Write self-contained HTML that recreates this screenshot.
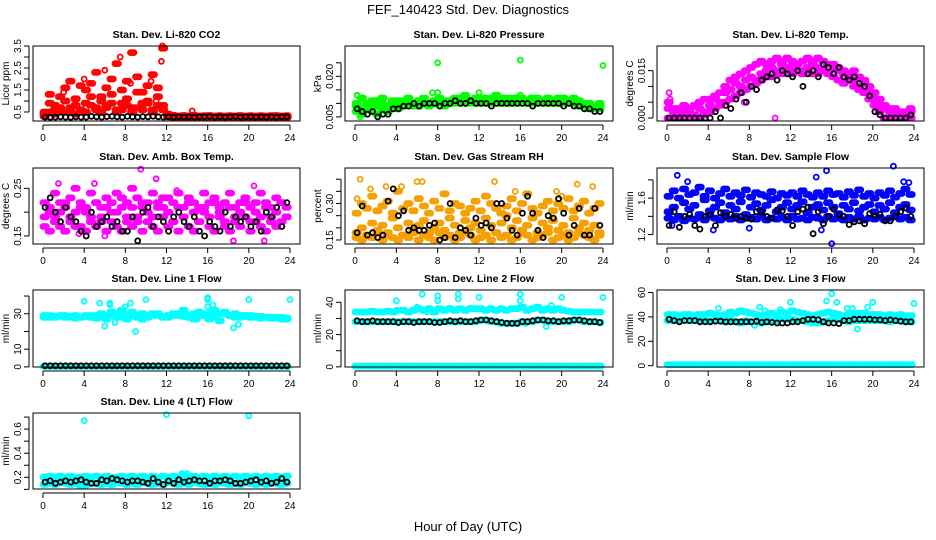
<!DOCTYPE html>
<html><head><meta charset="utf-8"><title>FEF_140423 Std. Dev. Diagnostics</title>
<style>html,body{margin:0;padding:0;background:#fff}svg{display:block;font-family:"Liberation Sans",Arial,sans-serif}</style>
</head><body>
<svg id="chart" width="936" height="540" viewBox="0 0 936 540" xmlns="http://www.w3.org/2000/svg">
<text x="468" y="14" font-size="13" text-anchor="middle">FEF_140423  Std. Dev. Diagnostics</text>
<text x="468" y="531" font-size="13" text-anchor="middle">Hour of Day (UTC)</text>
<g id="panels"></g>
</svg>
<script>
const hours=[0,0.5,1,1.5,2,2.5,3,3.5,4,4.5,5,5.5,6,6.5,7,7.5,8,8.5,9,9.5,10,10.5,11,11.5,12,12.5,13,13.5,14,14.5,15,15.5,16,16.5,17,17.5,18,18.5,19,19.5,20,20.5,21,21.5,22,22.5,23,23.5];
const xTicks=[0,4,8,12,16,20,24];
const xTickLabels=["0","4","8","12","16","20","24"];

const co2Red1=[0.4,0.9,0.6,0.7,1.0,0.5,0.8,0.6,0.9,1.2,0.7,1.0,0.8,1.3,0.6,0.9,1.1,0.7,1.4,0.9,1.0,0.6,1.2,0.8,0.4,0.35,0.3,0.3,0.3,0.35,0.3,0.3,0.3,0.3,0.3,0.3,0.3,0.3,0.3,0.3,0.3,0.3,0.3,0.3,0.3,0.3,0.3,0.3];
const co2Red2=[0.3,0.5,0.4,0.6,0.5,0.7,0.4,0.6,0.5,0.8,0.6,0.5,0.7,0.9,0.5,0.6,0.8,0.5,0.7,0.6,0.9,0.5,0.8,0.6,0.28,0.26,0.25,0.25,0.26,0.25,0.25,0.26,0.25,0.25,0.26,0.25,0.25,0.26,0.25,0.25,0.26,0.25,0.25,0.26,0.25,0.25,0.26,0.25];
const co2Red3=[0.5,1.3,0.8,1.2,1.6,1.9,1.1,1.7,1.5,1.8,2.3,1.2,1.6,2.0,2.7,1.5,1.9,3.2,2.1,1.4,1.7,2.2,1.6,3.4,0.32,0.33,0.32,0.34,0.32,0.33,0.32,0.33,0.34,0.32,0.33,0.32,0.33,0.32,0.34,0.32,0.33,0.32,0.33,0.32,0.33,0.34,0.32,0.33];
const co2Out=[[8.5,1.8],[8,1.1],[7.5,3.0],[11.5,2.8],[11.6,3.5],[10.5,1.9],[11,1.0],[2,1.4],[4,2.0],[6,2.4],[14.5,0.55]];
const co2Black=[0.27,0.26,0.27,0.28,0.27,0.26,0.28,0.27,0.27,0.3,0.28,0.27,0.29,0.3,0.28,0.27,0.3,0.28,0.27,0.29,0.28,0.31,0.28,0.27,0.28,0.27,0.28,0.27,0.28,0.27,0.28,0.28,0.29,0.27,0.28,0.27,0.28,0.29,0.27,0.28,0.28,0.27,0.28,0.27,0.28,0.27,0.28,0.28];

const presG1=[0.010,0.012,0.008,0.011,0.009,0.012,0.008,0.010,0.011,0.009,0.012,0.010,0.011,0.012,0.010,0.011,0.012,0.011,0.010,0.012,0.011,0.013,0.011,0.012,0.012,0.011,0.012,0.013,0.011,0.012,0.012,0.011,0.012,0.011,0.012,0.012,0.011,0.012,0.011,0.012,0.012,0.011,0.012,0.011,0.010,0.010,0.009,0.010];
const presG2=[0.007,0.006,0.008,0.007,0.006,0.008,0.007,0.009,0.008,0.009,0.010,0.009,0.009,0.010,0.009,0.010,0.010,0.009,0.010,0.010,0.010,0.011,0.010,0.010,0.010,0.010,0.010,0.011,0.010,0.010,0.010,0.010,0.011,0.010,0.010,0.010,0.010,0.010,0.010,0.010,0.010,0.010,0.010,0.009,0.009,0.008,0.008,0.008];
const presG3=[0.009,0.008,0.010,0.009,0.011,0.010,0.009,0.011,0.010,0.011,0.011,0.010,0.011,0.011,0.010,0.011,0.011,0.010,0.011,0.011,0.012,0.011,0.011,0.011,0.011,0.012,0.011,0.011,0.012,0.011,0.011,0.012,0.011,0.011,0.012,0.011,0.011,0.012,0.011,0.011,0.012,0.011,0.011,0.010,0.010,0.009,0.009,0.009];
const presOut=[[8,0.025],[16,0.026],[24,0.024],[7.5,0.014],[8,0.014],[12,0.014],[16,0.013],[2,0.006],[0.2,0.013],[0.5,0.005]];
const presBlack=[0.008,0.007,0.006,0.007,0.005,0.006,0.006,0.008,0.008,0.009,0.009,0.010,0.009,0.010,0.010,0.010,0.009,0.010,0.010,0.011,0.010,0.010,0.011,0.010,0.010,0.010,0.009,0.010,0.010,0.010,0.010,0.010,0.010,0.010,0.009,0.010,0.010,0.010,0.010,0.010,0.009,0.010,0.009,0.009,0.008,0.008,0.007,0.007];

const tempM1=[0.003,0.002,0.001,0.002,0.002,0.001,0.003,0.002,0.004,0.006,0.005,0.008,0.009,0.011,0.010,0.012,0.013,0.012,0.014,0.015,0.016,0.015,0.017,0.016,0.016,0.017,0.015,0.016,0.017,0.016,0.015,0.017,0.016,0.015,0.014,0.013,0.012,0.010,0.011,0.008,0.006,0.004,0.003,0.002,0.002,0.001,0.001,0.002];
const tempM2=[0,0,0,0,0.001,0,0,0.001,0.002,0.003,0.004,0.005,0.006,0.007,0.008,0.009,0.010,0.011,0.012,0.013,0.013,0.014,0.014,0.015,0.014,0.015,0.014,0.015,0.014,0.014,0.015,0.014,0.013,0.012,0.011,0.012,0.010,0.009,0.008,0.006,0.004,0.002,0,0,0,0,0,0];
const tempM3=[0.005,0.003,0.003,0.004,0.003,0.004,0.005,0.006,0.006,0.007,0.008,0.010,0.012,0.013,0.014,0.015,0.016,0.017,0.018,0.017,0.018,0.019,0.018,0.019,0.018,0.017,0.018,0.019,0.018,0.019,0.018,0.017,0.017,0.016,0.015,0.014,0.015,0.013,0.012,0.010,0.008,0.006,0.004,0.003,0.003,0.002,0.002,0.003];
const tempOut=[[0.2,0.008],[0.3,0.006],[7.5,0.005],[10.5,0.0],[21,0.0],[21.5,0.0],[22.5,0.0],[3,0.0]];
const tempBlack=[0,0,0,0,0,0,0,0,0,0.002,0,0.004,0.003,0.006,0.008,0.005,0.010,0.009,0.012,0.013,0.014,0.012,0.015,0.014,0.013,0.015,0.010,0.014,0.015,0.013,0.017,0.016,0.014,0.016,0.013,0.012,0.013,0.011,0.010,0.007,0.002,0.001,0,0,0,0,0,0.001];

const ambA1=[0.19,0.21,0.18,0.20,0.22,0.19,0.17,0.21,0.20,0.18,0.22,0.19,0.21,0.18,0.20,0.23,0.19,0.21,0.18,0.22,0.20,0.19,0.21,0.23,0.20,0.18,0.21,0.19,0.22,0.20,0.18,0.21,0.19,0.22,0.20,0.18,0.21,0.19,0.20,0.22,0.18,0.20,0.19,0.21,0.18,0.20,0.22,0.19];
const ambA2=[0.17,0.16,0.19,0.17,0.16,0.18,0.20,0.17,0.16,0.19,0.17,0.18,0.16,0.20,0.17,0.16,0.18,0.17,0.19,0.16,0.18,0.17,0.16,0.19,0.17,0.18,0.16,0.19,0.17,0.16,0.18,0.20,0.17,0.16,0.19,0.17,0.16,0.18,0.17,0.19,0.16,0.18,0.17,0.16,0.19,0.17,0.18,0.19];
const ambA3=[0.22,0.20,0.24,0.22,0.21,0.23,0.25,0.22,0.21,0.24,0.22,0.21,0.23,0.22,0.24,0.21,0.22,0.25,0.23,0.21,0.22,0.24,0.22,0.21,0.23,0.22,0.24,0.21,0.23,0.22,0.21,0.24,0.22,0.23,0.21,0.22,0.24,0.21,0.22,0.23,0.21,0.22,0.24,0.22,0.21,0.23,0.22,0.21];
const ambOut=[[1.5,0.26],[5,0.26],[9.5,0.29],[11,0.27],[13,0.245],[20.5,0.255],[18.5,0.14],[21.5,0.14],[6,0.15],[3.5,0.155]];
const ambBlack=[0.21,0.23,0.20,0.18,0.21,0.19,0.18,0.16,0.15,0.20,0.17,0.18,0.19,0.17,0.18,0.16,0.16,0.19,0.14,0.20,0.21,0.17,0.19,0.18,0.16,0.19,0.20,0.18,0.17,0.19,0.16,0.15,0.18,0.17,0.16,0.20,0.17,0.19,0.18,0.19,0.17,0.18,0.16,0.20,0.19,0.21,0.17,0.22];

const rhR1=[0.18,0.20,0.17,0.22,0.19,0.21,0.18,0.24,0.20,0.17,0.22,0.19,0.21,0.23,0.18,0.20,0.22,0.19,0.24,0.21,0.18,0.23,0.20,0.22,0.19,0.24,0.21,0.18,0.22,0.25,0.20,0.23,0.19,0.21,0.24,0.18,0.22,0.20,0.23,0.19,0.21,0.18,0.24,0.20,0.22,0.19,0.21,0.18];
const rhR2=[0.16,0.15,0.17,0.16,0.18,0.15,0.17,0.16,0.15,0.17,0.16,0.18,0.15,0.17,0.16,0.15,0.18,0.16,0.17,0.15,0.16,0.18,0.17,0.15,0.16,0.17,0.15,0.18,0.16,0.17,0.15,0.16,0.18,0.17,0.15,0.16,0.17,0.18,0.15,0.16,0.17,0.15,0.16,0.18,0.17,0.16,0.15,0.17];
const rhR3=[0.26,0.30,0.28,0.33,0.27,0.29,0.31,0.26,0.35,0.28,0.30,0.27,0.32,0.29,0.26,0.31,0.28,0.34,0.27,0.30,0.29,0.26,0.28,0.31,0.27,0.33,0.30,0.28,0.26,0.29,0.32,0.27,0.30,0.34,0.28,0.26,0.29,0.31,0.27,0.30,0.28,0.32,0.27,0.29,0.31,0.26,0.28,0.30];
const rhOut=[[0.5,0.40],[1.5,0.36],[3,0.37],[4,0.35],[4.5,0.37],[6,0.39],[6.5,0.39],[13.5,0.39],[15.5,0.35],[19.5,0.35],[20,0.33],[23,0.37],[21.5,0.38],[0.2,0.32]];
const rhBlack=[0.18,0.29,0.17,0.18,0.16,0.17,0.31,0.36,0.25,0.27,0.19,0.20,0.19,0.19,0.21,0.22,0.15,0.16,0.30,0.16,0.20,0.19,0.17,0.24,0.21,0.22,0.20,0.30,0.30,0.24,0.19,0.17,0.26,0.33,0.26,0.19,0.16,0.25,0.24,0.32,0.26,0.17,0.21,0.28,0.17,0.17,0.28,0.21];

const flowB1=[1.45,1.50,1.40,1.55,1.48,1.52,1.42,1.58,1.46,1.50,1.55,1.44,1.52,1.48,1.56,1.42,1.50,1.54,1.47,1.52,1.58,1.45,1.50,1.55,1.48,1.52,1.56,1.44,1.50,1.53,1.47,1.55,1.50,1.43,1.52,1.48,1.55,1.46,1.50,1.53,1.45,1.52,1.48,1.55,1.44,1.50,1.53,1.47];
const flowB2=[1.62,1.68,1.60,1.70,1.64,1.66,1.72,1.62,1.68,1.60,1.65,1.70,1.62,1.66,1.63,1.69,1.61,1.66,1.64,1.62,1.67,1.60,1.65,1.63,1.66,1.62,1.68,1.64,1.61,1.66,1.62,1.68,1.64,1.65,1.61,1.67,1.63,1.69,1.62,1.65,1.60,1.66,1.63,1.68,1.61,1.65,1.70,1.64];
const flowB3=[1.38,1.36,1.40,1.35,1.38,1.37,1.39,1.36,1.40,1.38,1.36,1.39,1.37,1.40,1.36,1.38,1.39,1.37,1.40,1.36,1.38,1.37,1.39,1.36,1.40,1.37,1.38,1.36,1.39,1.38,1.36,1.40,1.37,1.38,1.36,1.39,1.37,1.40,1.36,1.38,1.37,1.39,1.36,1.38,1.40,1.37,1.39,1.36];
const flowOut=[[1,1.85],[0.5,1.3],[2,1.78],[4.5,1.25],[8,1.27],[14.5,1.83],[15.5,1.9],[16,1.1],[15,1.25],[22,1.95],[23,1.78],[23.5,1.77]];
const flowBlack=[1.30,1.45,1.28,1.40,1.42,1.30,1.26,1.40,1.42,1.30,1.44,1.40,1.42,1.38,1.40,1.38,1.37,1.45,1.45,1.40,1.38,1.47,1.46,1.40,1.30,1.45,1.48,1.50,1.21,1.45,1.32,1.40,1.48,1.42,1.40,1.31,1.34,1.35,1.32,1.43,1.40,1.42,1.35,1.35,1.40,1.45,1.49,1.40];

const line1C1=[29,29,28.5,29,29,28.5,29,28,28.5,29,29,30,27,29,30,28,29,31,29,30,28,29,30,28.5,29,30,29,28.5,29,30,31,29,30,28,30,31,29,30,28,29,29,28.5,28.5,28,28,28,28,27.5];
const line1C2=[28,28,28,28.5,28,28,27.5,28,29,28,27.5,28,29,31,28,32,27,29,28,27,29,30,29,28,28,29,30,32,28,27,29,30,27,32,26,30,29,28,29,28.5,28,28,27.5,28,27.5,27.5,27,27];
const line1Zero=[0.3,0.3,0.3,0.3,0.3,0.3,0.3,0.3,0.3,0.3,0.3,0.3,0.3,0.3,0.3,0.3,0.3,0.3,0.3,0.3,0.3,0.3,0.3,0.3,0.3,0.3,0.3,0.3,0.3,0.3,0.3,0.3,0.3,0.3,0.3,0.3,0.3,0.3,0.3,0.3,0.3,0.3,0.3,0.3,0.3,0.3,0.3,0.3];
const line1Out=[[4,37],[5.5,36],[6,23],[6.5,36],[6.5,35],[7.5,30],[8,34],[8.5,36],[9,20],[10,38],[16,38],[16,34],[16,39],[16.5,35],[18.5,22],[19,24],[20,38],[24,38],[7,25],[15,27]];
const line1Black=[0.6,0.6,0.6,0.6,0.6,0.6,0.6,0.6,0.6,0.6,0.6,0.6,0.6,0.6,0.6,0.6,0.6,0.6,0.6,0.6,0.6,0.6,0.6,0.6,0.6,0.6,0.6,0.6,0.6,0.6,0.6,0.6,0.6,0.6,0.6,0.6,0.6,0.6,0.6,0.6,0.6,0.6,0.6,0.6,0.6,0.6,0.6,0.6];

const line2C1=[34,34,34,34.5,34,34,34.5,34,35,35,34,35,36,35,36,34,36,35,36,35,36,35,36,36,36,35,36,35,36,35,36,36,37,35,36,37,35,36,35,36,35,34.5,34,34,34,34,34,34];
const line2C2=[28,28,28,28,28,28,28,28,28,28,28,28,28,28,28,28,28,28,28,28,28,28,28,28,29,29,28,28,27,27,27,27,28,28,28,29,29,28,28,28,28,28,29,29,28,28,28,27.5];
const line2Zero=[0.5,0.5,0.5,0.5,0.5,0.5,0.5,0.5,0.5,0.5,0.5,0.5,0.5,0.5,0.5,0.5,0.5,0.5,0.5,0.5,0.5,0.5,0.5,0.5,0.5,0.5,0.5,0.5,0.5,0.5,0.5,0.5,0.5,0.5,0.5,0.5,0.5,0.5,0.5,0.5,0.5,0.5,0.5,0.5,0.5,0.5,0.5,0.5];
const line2Out=[[4,41],[6.5,45],[6,37],[7,34],[8,41],[8,44],[10,45],[10,42],[12,43],[16,45],[16,41],[18.5,25],[19,38],[20,43],[24,43],[16.5,27]];
const line2Black=[28.5,28,28,28.5,28,28,28,28,27.5,28,28,27.5,28,28,28,27.5,27.5,28,28.5,28,28.5,28,28,28.5,29,29,28.5,28,27.5,27,27,27,28,28,28.5,29,29,28.5,28.5,28,28.5,28.5,29,29,28.5,28,28,27.5];

const line3C1=[42,42,41,42,42,41,42,42,43,42,41,42,44,43,45,44,43,42,41,42,43,42,44,43,45,44,43,42,41,42,43,44,43,42,41,42,43,43,43,42,42,42,41,42,41,42,41,41];
const line3C2=[37,37,37,37.5,37,37,37,37,36.5,37,37,36,38,36,35,37,36,36,35,36,37,37,38,38,38,37,37,36,35,35,36,37,38,38,37,36,37,37,37,37,37,37,37,36,37,37,36,36];
const line3Zero=[0.8,0.8,0.8,0.8,0.8,0.8,0.8,0.8,0.8,0.8,0.8,0.8,0.8,0.8,0.8,0.8,0.8,0.8,0.8,0.8,0.8,0.8,0.8,0.8,0.8,0.8,0.8,0.8,0.8,0.8,0.8,0.8,0.8,0.8,0.8,0.8,0.8,0.8,0.8,0.8,0.8,0.8,0.8,0.8,0.8,0.8,0.8,0.8];
const line3Out=[[5,47],[9,48],[9.5,45],[11,46],[12,52],[15.5,53],[16,59],[16.5,52],[17.5,47],[18,47],[18.5,30],[19.5,48],[20,52],[24,51],[8.5,33]];
const line3Black=[38,37,36,37,37,37,36,36,36,36.5,36.5,36,36,36,36,36,36,36.5,35.5,36,35.5,35,35,35,36,36,37,38,38,37.5,36,35,35,34.5,37,37,38,38,38,38,37.5,37.5,37,37.5,37,36.5,36,36];

const line4C1=[0.20,0.21,0.20,0.21,0.20,0.21,0.20,0.20,0.21,0.20,0.21,0.20,0.21,0.20,0.20,0.21,0.20,0.21,0.20,0.21,0.20,0.21,0.20,0.21,0.20,0.21,0.20,0.22,0.20,0.21,0.20,0.21,0.20,0.21,0.20,0.21,0.20,0.21,0.20,0.21,0.20,0.21,0.20,0.21,0.20,0.21,0.20,0.21];
const line4C2=[0.14,0.15,0.14,0.16,0.15,0.14,0.15,0.13,0.14,0.16,0.15,0.14,0.15,0.14,0.16,0.15,0.14,0.15,0.14,0.16,0.15,0.14,0.15,0.14,0.16,0.15,0.14,0.15,0.14,0.16,0.15,0.14,0.15,0.14,0.16,0.15,0.14,0.15,0.14,0.16,0.15,0.14,0.15,0.14,0.16,0.15,0.14,0.15];
const line4Out=[[4,0.67],[12,0.72],[20,0.71],[4.2,0.13],[13.5,0.23],[14,0.23]];
const line4Black=[0.16,0.17,0.15,0.16,0.17,0.16,0.17,0.18,0.16,0.15,0.15,0.18,0.17,0.19,0.18,0.17,0.16,0.17,0.17,0.16,0.15,0.19,0.16,0.14,0.17,0.15,0.18,0.16,0.17,0.18,0.17,0.17,0.15,0.17,0.17,0.18,0.17,0.15,0.15,0.16,0.17,0.18,0.16,0.17,0.15,0.16,0.19,0.16];

const colX=[[43,290],[355,603],[667,914]];
const rowY=[[46,121],[168,244],[290,367],[413,489]];
const panels=[
 {id:'co2',title:'Stan. Dev. Li-820 CO2',ylab:'Licor ppm',c:0,r:0,dom:[0.091,3.5],ticks:[0.5,1,1.5,2,2.5,3,3.5],tl:['0.5','','1.5','','2.5','','3.5'],col:'#ff0000',series:[co2Red1,co2Red2,co2Red3],out:co2Out,black:co2Black},
 {id:'pressure',title:'Stan. Dev. Li-820 Pressure',ylab:'kPa',c:1,r:0,dom:[0.0035,0.0312],ticks:[0.005,0.010,0.015,0.020,0.025],tl:['0.005','','','0.020',''],col:'#00ff00',series:[presG1,presG2,presG3],out:presOut,black:presBlack},
 {id:'temp',title:'Stan. Dev. Li-820 Temp.',ylab:'degrees C',c:2,r:0,dom:[-0.00095,0.0228],ticks:[0,0.005,0.010,0.015],tl:['0.000','','','0.015'],col:'#ff00ff',series:[tempM1,tempM2,tempM3],out:tempOut,black:tempBlack},
 {id:'ambbox',title:'Stan. Dev. Amb. Box Temp.',ylab:'degrees C',c:0,r:1,dom:[0.1332,0.2926],ticks:[0.15,0.20,0.25],tl:['0.15','','0.25'],col:'#ff00ff',series:[ambA1,ambA2,ambA3],out:ambOut,black:ambBlack},
 {id:'rh',title:'Stan. Dev. Gas Stream RH',ylab:'percent',c:1,r:1,dom:[0.1336,0.446],ticks:[0.15,0.20,0.25,0.30,0.35,0.40],tl:['0.15','','','0.30','',''],col:'#f5a000',series:[rhR1,rhR2,rhR3],out:rhOut,black:rhBlack},
 {id:'sampleflow',title:'Stan. Dev. Sample Flow',ylab:'ml/min',c:2,r:1,dom:[1.097,1.93],ticks:[1.2,1.4,1.6,1.8],tl:['1.2','','1.6',''],col:'#0000ff',series:[flowB1,flowB2,flowB3],out:flowOut,black:flowBlack},
 {id:'line1',title:'Stan. Dev. Line 1 Flow',ylab:'ml/min',c:0,r:2,dom:[-0.057,43.4],ticks:[0,10,20,30,40],tl:['0','10','','30',''],col:'#00ffff',series:[line1Zero,line1C1,line1C2],out:line1Out,black:line1Black},
 {id:'line2',title:'Stan. Dev. Line 2 Flow',ylab:'ml/min',c:1,r:2,dom:[-0.08,47.6],ticks:[0,10,20,30,40],tl:['0','','20','','40'],col:'#00ffff',series:[line2Zero,line2C1,line2C2],out:line2Out,black:line2Black},
 {id:'line3',title:'Stan. Dev. Line 3 Flow',ylab:'ml/min',c:2,r:2,dom:[-1.07,62.05],ticks:[0,20,40,60],tl:['0','20','40','60'],col:'#00ffff',series:[line3Zero,line3C1,line3C2],out:line3Out,black:line3Black},
 {id:'line4',title:'Stan. Dev. Line 4 (LT) Flow',ylab:'ml/min',c:0,r:3,dom:[0.103,0.7336],ticks:[0.1,0.2,0.3,0.4,0.5,0.6,0.7],tl:['','0.2','','0.4','','0.6',''],col:'#00ffff',series:[line4C1,line4C2],out:line4Out,black:line4Black}
];
const NS='http://www.w3.org/2000/svg';
const root=document.getElementById('panels');
function mk(tag,attrs,parent){const e=document.createElementNS(NS,tag);for(const k in attrs)e.setAttribute(k,attrs[k]);parent.appendChild(e);return e;}
panels.forEach(p=>{
 const [x0,x24]=colX[p.c];const [yt,yb]=rowY[p.r];
 const xs=h=>x0+(h/24)*(x24-x0);
 const ys=v=>yb-(v-p.dom[0])/(p.dom[1]-p.dom[0])*(yb-yt);
 const bl=x0-10,br=x24+10;
 const g=mk('g',{},root);
 
 
 const t=mk('text',{x:(bl+br)/2,y:yt-8,'font-size':'10.5','font-weight':'bold','text-anchor':'middle'},g);
 t.textContent=p.title;
 
 
 const pts=mk('g',{fill:'none','stroke-width':'1.8'},g);
 
 
 function dot(h,v,col){const c=mk('circle',{cx:xs(h).toFixed(1),cy:ys(v).toFixed(1),r:'2.5',stroke:col},pts);
  
  }
 p.series.forEach(s=>s.forEach((v,i)=>{dot(hours[i],v,p.col);dot(hours[i]+0.17,v,p.col);dot(hours[i]+0.33,v,p.col);}));
 p.out.forEach(o=>dot(o[0],o[1],p.col));
 p.black.forEach((v,i)=>dot(hours[i]+0.2,v,'#000'));
 const box=mk('rect',{x:bl,y:yt,width:br-bl,height:yb-yt,fill:'none',stroke:'#000','stroke-width':'1'},g);
 
 
 const xa=mk('g',{stroke:'#000','stroke-width':'1'},g);
 
 
 mk('line',{x1:x0,x2:x24,y1:yb+4,y2:yb+4},xa);
 xTicks.forEach((h,i)=>{mk('line',{x1:xs(h),x2:xs(h),y1:yb+4,y2:yb+9},xa);
  const l=mk('text',{x:xs(h),y:yb+20,'font-size':'10','text-anchor':'middle',stroke:'none'},xa);
  l.textContent=xTickLabels[i];
  
  });
 const ya=mk('g',{stroke:'#000','stroke-width':'1'},g);
 
 
 mk('line',{x1:bl-4,x2:bl-4,y1:ys(p.ticks[0]),y2:ys(p.ticks[p.ticks.length-1])},ya);
 p.ticks.forEach((v,i)=>{const y=ys(v);mk('line',{x1:bl-9,x2:bl-4,y1:y,y2:y},ya);
  if(p.tl[i]){const l=mk('text',{x:bl-12,y:y,'font-size':'10','text-anchor':'middle',stroke:'none',transform:`rotate(-90 ${bl-12} ${y})`},ya);
   l.textContent=p.tl[i];
   
   }});
 const yl=mk('text',{x:bl-24,y:(yt+yb)/2,'font-size':'10','text-anchor':'middle',transform:`rotate(-90 ${bl-24} ${(yt+yb)/2})`},g);
 yl.textContent=p.ylab;
 
 
});
</script>
</body></html>
